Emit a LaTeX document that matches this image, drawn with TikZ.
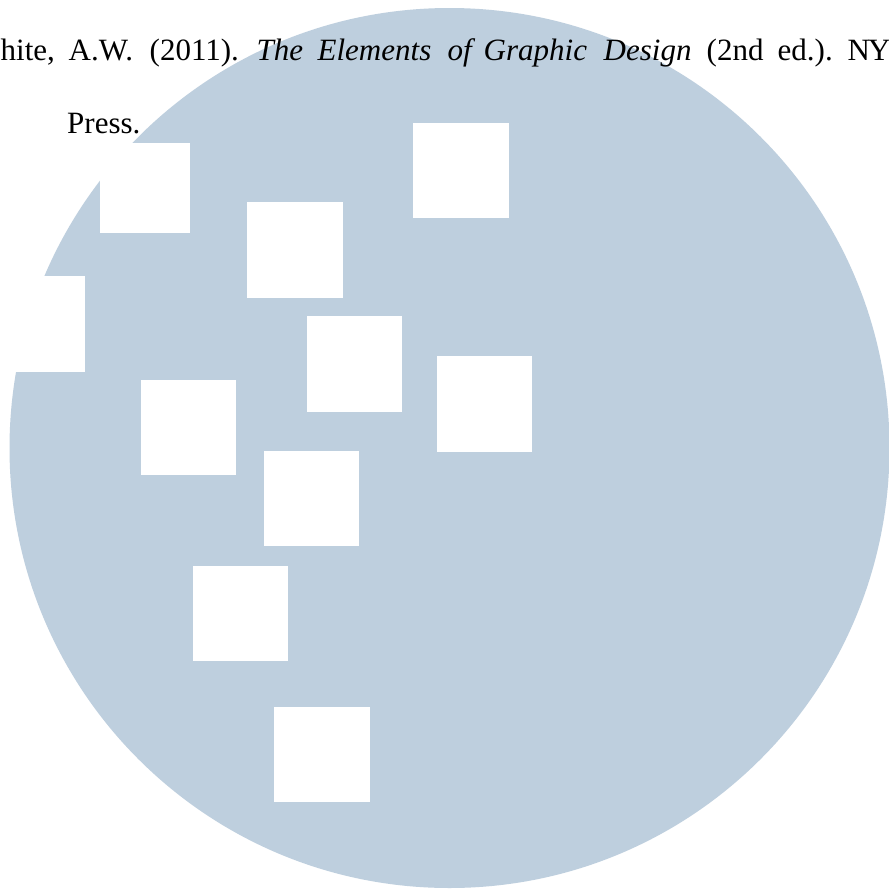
\documentclass[tikz,border=0pt]{standalone}
\usepackage{fontspec}
\setmainfont{Liberation Serif}
\definecolor{disc}{RGB}{190,207,222}
\newcommand\wordat[2]{\makebox[0pt][l]{\hspace*{#1pt}#2}}
\tikzset{sq/.style={fill=white,draw=none},lab/.style={anchor=base west,inner sep=0pt,font=\fontsize{31pt}{34pt}\selectfont}}
\begin{document}
\begin{tikzpicture}[x=1pt,y=-1pt]
\useasboundingbox (0,0) rectangle (889,892);
\fill[white] (0,0) rectangle (889,892);
\fill[disc] (449.5,448) circle[radius=440];
\fill[sq] (100,143) rectangle (190,233);
\fill[sq] (413,123) rectangle (509,218);
\fill[sq] (247,202) rectangle (343,298);
\fill[sq] (0,276) rectangle (85,372);
\fill[sq] (307,316) rectangle (402,412);
\fill[sq] (437,356) rectangle (532,452);
\fill[sq] (141,380) rectangle (236,475);
\fill[sq] (264,451) rectangle (359,546);
\fill[sq] (193,566) rectangle (288,661);
\fill[sq] (274,707) rectangle (370,802);
\node[lab] (l1) at (0,60) {\wordat{0}{hite,}\wordat{68}{A.W.}\wordat{149}{(2011).}\wordat{256}{\textit{The}}\wordat{317}{\textit{Elements}}\wordat{447}{\textit{of}}\wordat{483}{\textit{Graphic}}\wordat{603}{\textit{Design}}\wordat{706}{(2nd}\wordat{777}{ed.).}\wordat{847}{N\kern-2pt Y}};
\node[lab] (l2) at (67,133) {Press.};
\end{tikzpicture}
\end{document}
